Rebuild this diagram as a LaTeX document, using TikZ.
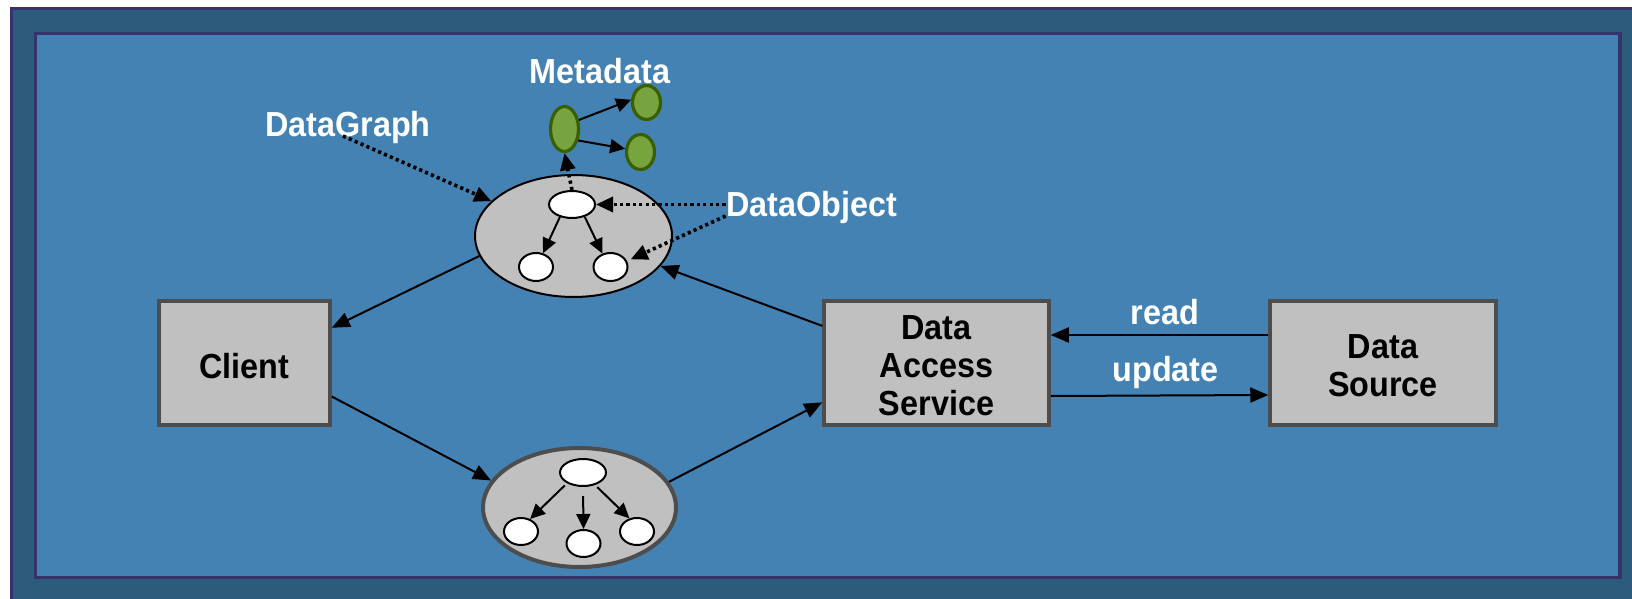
\documentclass[tikz,border=0pt]{standalone}
\usepackage{fontspec}
\setmainfont{Liberation Sans}[FakeStretch=0.93]
\usetikzlibrary{arrows.meta,shapes.geometric}

\definecolor{framefill}{HTML}{2C5B7B}
\definecolor{frameline}{HTML}{35336A}
\definecolor{panelfill}{HTML}{4482B3}
\definecolor{boxfill}{HTML}{C0C0C0}
\definecolor{boxline}{HTML}{4D4D4D}
\definecolor{metafill}{HTML}{77A43F}
\definecolor{metaline}{HTML}{3A5F00}

\begin{document}
\begin{tikzpicture}[x=0.5pt,y=-0.5pt,
  txt/.style={font=\fontsize{17.4pt}{19pt}\selectfont\bfseries, inner sep=0pt},
  wlab/.style={txt, text=white, anchor=base},
  box/.style={draw=boxline, line width=1.75pt, fill=boxfill, inner sep=0pt,
    minimum width=#1, minimum height=62pt},
  boxtext/.style={label={[txt, align=center, yshift=-1.5pt]center:#1}},
  graphshape/.style={ellipse, inner sep=0pt, fill=boxfill},
  obj/.style={ellipse, inner sep=0pt, draw=black, line width=1pt, fill=white,
    minimum width=#1},
  meta/.style={ellipse, inner sep=0pt, draw=metaline, line width=1.6pt,
    fill=metafill, minimum width=14pt},
  link/.style={line width=1pt, -{Triangle[length=9pt,width=7.5pt]}},
  inlink/.style={line width=1pt, -{Triangle[length=7.5pt,width=7pt]}},
  hint/.style={line width=1.8pt, dash pattern=on 1.6pt off 1.6pt,
    -{Triangle[length=8.5pt,width=7.5pt]}}
]
\useasboundingbox (0,0) rectangle (1632,599);
\clip (0,0) rectangle (1632,599);

% frame and panel
\draw[line width=1.5pt, draw=frameline, fill=framefill] (11,9) rectangle (1700,700);
\draw[line width=1.75pt, draw=frameline, fill=panelfill] (35.5,33.5) rectangle (1620,577.5);

% main boxes
\node[box=85.5pt, boxtext={Client}] (client) at (244.5,363) {};
\node[box=112.5pt, boxtext={Data\\Access\\Service}] (das) at (936.5,363) {};
\node[box=113pt, boxtext={Data\\Source}] (ds) at (1383,363) {};

% data graph sent to the client
\node[graphshape, draw=black, line width=1pt, minimum width=98.5pt, minimum height=61pt] (dg) at (573.5,236) {};
\node[obj=23pt, minimum height=13.5pt] (t) at (572,204.5) {};
\node[obj=17pt, minimum height=14pt] (tl) at (536,267) {};
\node[obj=17pt, minimum height=14pt] (tr) at (610.5,267) {};
\draw[inlink] (t.226) -- (tl.63);
\draw[inlink] (t.316) -- (tr.121);

% data graph returned with changes
\node[graphshape, draw=boxline, line width=2pt, minimum width=96.5pt, minimum height=59.5pt] (cg) at (579.5,507.5) {};
\node[obj=23pt, minimum height=13.5pt] (ct) at (583,472.5) {};
\node[obj=17pt, minimum height=13.5pt] (cl) at (521,531.5) {};
\node[obj=17pt, minimum height=13.5pt] (cc) at (583.5,543.5) {};
\node[obj=17pt, minimum height=13.5pt] (cr) at (637,531.5) {};
\draw[inlink, shorten <=1.5pt] (ct.214) -- (cl.54);
\draw[inlink, shorten <=4.5pt] (ct.south) -- (cc.north);
\draw[inlink, shorten <=1.5pt] (ct.314) -- (cr.120);

% metadata
\node[meta, minimum height=22.5pt] (g) at (564.5,129) {};
\node[meta, minimum height=17pt] (g1) at (646.5,102.5) {};
\node[meta, minimum height=17.5pt] (g2) at (640.5,152) {};
\draw[inlink] (g.32) -- (g1.170);
\draw[inlink] (g.320) -- (g2.168);

% labels
\node[wlab] (mdlab) at (600,84) {Metadata};
\node[wlab] (dglab) at (348,136) {DataGraph};
\node[wlab] (dolab) at (811.5,216) {DataObject};
\node[wlab] (rdlab) at (1165,324) {read};
\node[wlab] (uplab) at (1165.5,381) {update};

% pointers from the labels
\draw[hint] ([xshift=-2.5pt]dglab.base) -- (dg.157);
\draw[hint] (t.east -| dolab.west) -- (t.east);
\draw[hint, shorten >=2pt] (dolab.base west) -- (tr.20);
\draw[hint] (t.north) -- (g.south);

% data flow
\draw[link] (dg.192) -- (client.22.8);
\draw[link] (client.339.5) -- (cg.163.3);
\draw[link] (cg.16.8) -- (das.199.6);
\draw[link] (das.162.7) -- (dg.341.3);
\draw[link] ([yshift=14pt]ds.west) -- ([yshift=14pt]das.east);
\draw[link] ([yshift=-16.5pt]das.east) -- ([yshift=-16pt]ds.west);
\end{tikzpicture}
\end{document}
